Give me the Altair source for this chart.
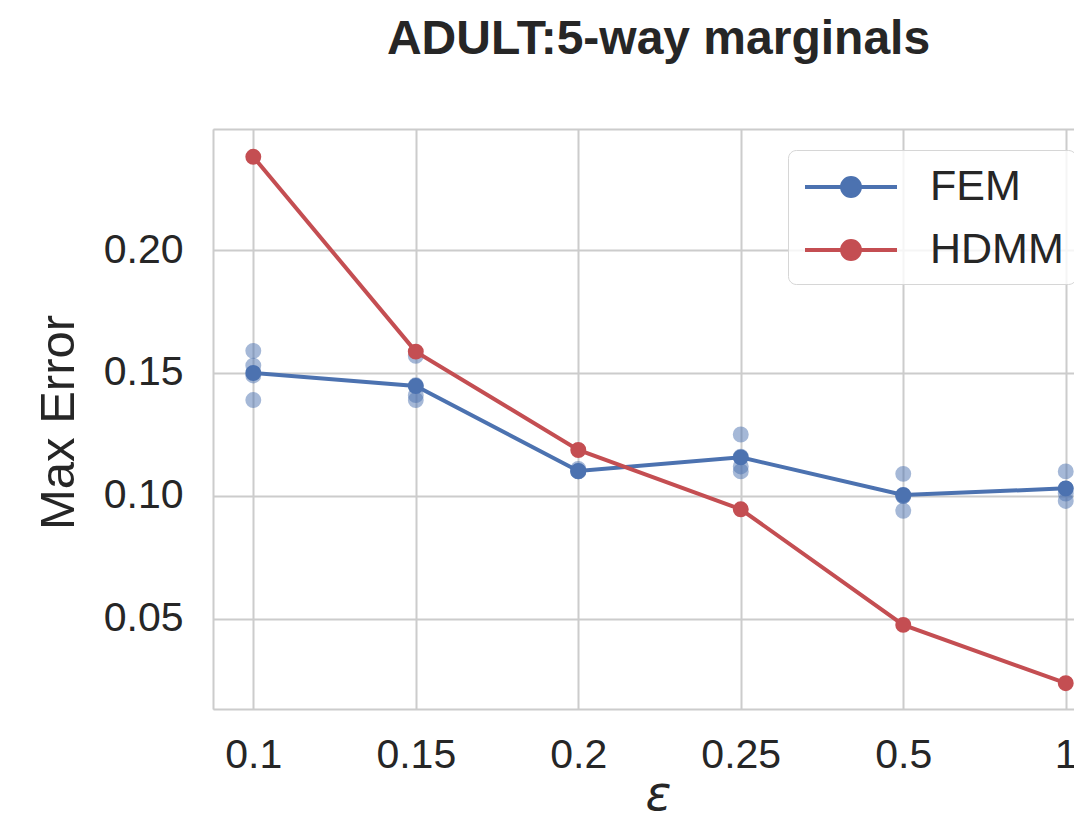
import json
import altair as alt
import pandas as pd

# ---- data ----
eps_labels = ["0.1", "0.15", "0.2", "0.25", "0.5", "1"]
series_names = ["FEM", "HDMM"]
series_colors = ["#4c72b0", "#c44e52"]

fem_runs = [
    [0.159, 0.153, 0.149, 0.139],
    [0.157, 0.145, 0.141, 0.139],
    [0.110, 0.110, 0.111, 0.110],
    [0.125, 0.116, 0.112, 0.110],
    [0.109, 0.100, 0.100, 0.094],
    [0.110, 0.103, 0.101, 0.098],
]
fem_mean = [0.1500, 0.1447, 0.1102, 0.1157, 0.1004, 0.1031]
hdmm_mean = [0.2379, 0.1587, 0.1187, 0.0946, 0.0476, 0.0239]

y_ticks = [0.05, 0.10, 0.15, 0.20]

runs_df = pd.DataFrame(
    [{"i": i, "eps": eps_labels[i], "err": v} for i, vals in enumerate(fem_runs) for v in vals]
)
mean_df = pd.DataFrame(
    [
        {"i": i, "eps": eps_labels[i], "series": s, "err": v}
        for s, vals in zip(series_names, [fem_mean, hdmm_mean])
        for i, v in enumerate(vals)
    ]
)

FONT = "Liberation Sans"
TXT = "#262626"
GRID = "#cccccc"

xscale = alt.Scale(domain=[-0.248, 5.0508], nice=False, zero=False)
yscale = alt.Scale(domain=[0.01341, 0.24919], nice=False, zero=False)
cscale = alt.Scale(domain=series_names, range=series_colors)

label_expr = json.dumps(eps_labels) + "[datum.value]"

x_axis = alt.Axis(
    values=list(range(len(eps_labels))),
    labelExpr=label_expr,
    title="ε",
    titleFont="DejaVu Sans",
    titleFontStyle="italic",
    titleFontWeight="normal",
    titleFontSize=48,
    titleColor=TXT,
    titleX=445,
    titleY=100,
    titleAlign="center",
    titleBaseline="alphabetic",
    labelFont=FONT,
    labelFontSize=41,
    labelColor=TXT,
    labelBaseline="alphabetic",
    labelPadding=58,
    labelFlush=False,
    ticks=False,
    tickSize=0,
    grid=True,
    gridColor=GRID,
    gridWidth=2,
    domain=True,
    domainColor=GRID,
    domainWidth=2,
)
y_axis = alt.Axis(
    values=y_ticks,
    format=".2f",
    title="Max Error",
    titleFont=FONT,
    titleFontWeight="normal",
    titleFontSize=49,
    titleColor=TXT,
    titleAngle=270,
    titleX=-140,
    titleY=293,
    titleAlign="center",
    titleBaseline="alphabetic",
    labelFont=FONT,
    labelFontSize=41,
    labelColor=TXT,
    labelPadding=30,
    labelFlush=False,
    ticks=False,
    tickSize=0,
    grid=True,
    gridColor=GRID,
    gridWidth=2,
    domain=True,
    domainColor=GRID,
    domainWidth=2,
)

legend_path = "M-2,0L2,0M0.39,0A0.39,0.39,0,1,1,-0.39,0A0.39,0.39,0,1,1,0.39,0Z"
legend = alt.Legend(
    title=None,
    orient="none",
    legendX=575,
    legendY=21,
    symbolType=legend_path,
    symbolSize=2116,
    symbolStrokeWidth=4,
    symbolOpacity=1,
    symbolOffset=26,
    labelOffset=54,
    labelFont=FONT,
    labelFontSize=43,
    labelColor=TXT,
    padding=12,
    rowPadding=16,
    fillColor="rgba(255,255,255,0.8)",
    strokeColor="#d6d6d6",
    cornerRadius=8,
)

runs = alt.Chart(runs_df).mark_circle(size=254, opacity=0.5, color=series_colors[0]).encode(
    x=alt.X("i:Q", scale=xscale, axis=None),
    y=alt.Y("err:Q", scale=yscale, axis=y_axis),
)

line = alt.Chart(mean_df).mark_line(strokeWidth=4).encode(
    x=alt.X("i:Q", scale=xscale, axis=x_axis),
    y=alt.Y("err:Q", scale=yscale, axis=y_axis),
    stroke=alt.Stroke("series:N", scale=cscale, legend=legend),
    order="i:Q",
)

pts = alt.Chart(mean_df).mark_circle(size=254, opacity=1).encode(
    x=alt.X("i:Q", scale=xscale, axis=None),
    y=alt.Y("err:Q", scale=yscale, axis=y_axis),
    fill=alt.Fill("series:N", scale=cscale, legend=legend),
)

top_spine = alt.Chart(mean_df).mark_point(opacity=0).encode(
    x=alt.X(
        "i:Q",
        scale=xscale,
        axis=alt.Axis(
            orient="top", labels=False, ticks=False, grid=False, title=None,
            domain=True, domainColor=GRID, domainWidth=2,
        ),
    ),
)

chart = (
    alt.layer(runs, line, pts, top_spine)
    .resolve_axis(x="independent")
    .properties(
        width=861,
        height=580,
        autosize=alt.AutoSizeParams(type="none"),
        padding={"left": 205, "top": 121, "right": 0, "bottom": 108},
        title=alt.TitleParams(
            "ADULT:5-way marginals",
            font=FONT,
            fontSize=48,
            fontWeight="bold",
            color=TXT,
            anchor="middle",
            frame="group",
            dx=15,
            baseline="alphabetic",
            offset=27,
        ),
    )
    .configure_view(stroke=None)
    .configure(background="white")
)

chart.save("out.html", embed_options={"renderer": "svg", "actions": False})
